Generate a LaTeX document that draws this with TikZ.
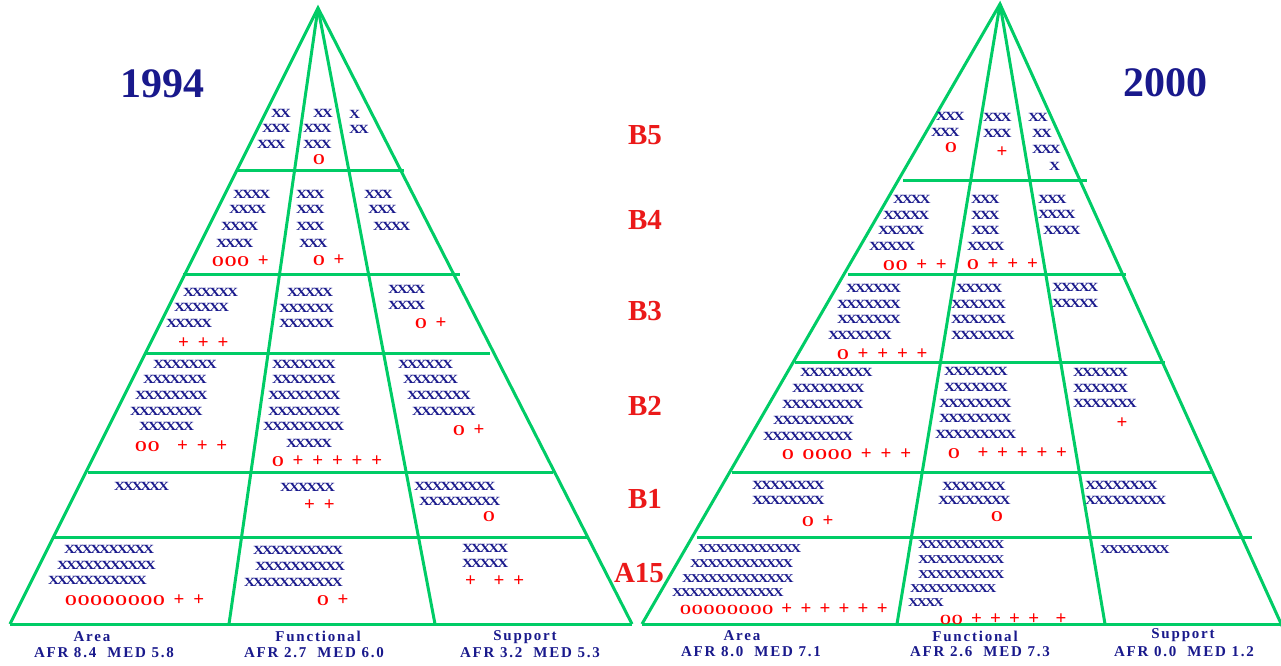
\documentclass[tikz,border=0pt]{standalone}
\usepackage{fontspec}
\setmainfont{Liberation Serif}
\newfontfamily\xfam{Liberation Serif}[FakeStretch=1.22,LetterSpace=-18]
\newfontfamily\rfam{Liberation Serif}[LetterSpace=6,WordSpace=1.9]
\newfontfamily\lfam{Liberation Serif}[LetterSpace=12]
\newcommand\pl{{\fontsize{19}{19}\selectfont+}}
\definecolor{dblue}{RGB}{25,25,140}
\definecolor{rred}{RGB}{255,0,0}
\definecolor{bred}{RGB}{235,25,25}
\definecolor{grn}{RGB}{0,204,102}
\tikzset{
  ln/.style={draw=grn, line width=3pt},
  xx/.style={anchor=west, inner sep=0pt, text=dblue, font={\xfam\bfseries\fontsize{12.5}{12.5}\selectfont}},
  xs/.style={xx, font={\xfam\bfseries\fontsize{12}{12}\selectfont}},
  rr/.style={anchor=west, inner sep=0pt, text=rred, font={\rfam\bfseries\fontsize{15}{15}\selectfont}},
  rs/.style={rr, font={\rfam\bfseries\fontsize{14}{14}\selectfont}},
  rc/.style={rr, anchor=center},
  blab/.style={text=bred, inner sep=0pt, font={\bfseries\fontsize{29}{29}\selectfont}},
  lab/.style={text=dblue, inner sep=0pt, font={\lfam\bfseries\fontsize{15}{15}\selectfont}},
  ttl/.style={text=dblue, inner sep=0pt, font={\bfseries\fontsize{42}{42}\selectfont}}
}
\begin{document}
\begin{tikzpicture}[x=1pt,y=-1pt]
\useasboundingbox (0,0) rectangle (1281,665);
\fill[white] (0,0) rectangle (1281,665);
% ---------- left pyramid frame
\coordinate (LA) at (318,8);
\coordinate (LBL) at (10,624);
\coordinate (LBR) at (632,624);
\coordinate (LD1) at (229,624);
\coordinate (LD2) at (435,624);
\draw[ln] (LBL) -- (LA) -- (LBR);
\draw[ln] (LA) -- (LD1);
\draw[ln] (LA) -- (LD2);
\draw[ln] (LBL) -- (LBR);
\coordinate (Lh1a) at (238,170); \coordinate (Lh1b) at (404,170);
\coordinate (Lh2a) at (183,274); \coordinate (Lh2b) at (460,274);
\coordinate (Lh3a) at (146,353); \coordinate (Lh3b) at (490,353);
\coordinate (Lh4a) at (88,472);  \coordinate (Lh4b) at (553,472);
\coordinate (Lh5a) at (54,537);  \coordinate (Lh5b) at (588,537);
\draw[ln] (Lh1a) -- (Lh1b);
\draw[ln] (Lh2a) -- (Lh2b);
\draw[ln] (Lh3a) -- (Lh3b);
\draw[ln] (Lh4a) -- (Lh4b);
\draw[ln] (Lh5a) -- (Lh5b);
% ---------- right pyramid frame
\coordinate (RA) at (1000,4);
\coordinate (RBL) at (642,624);
\coordinate (RBR) at (1283,628);
\coordinate (RBE) at (1283,624);
\coordinate (RD1) at (897,624);
\coordinate (RD2) at (1105,624);
\draw[ln] (RBL) -- (RA) -- (RBR);
\draw[ln] (RA) -- (RD1);
\draw[ln] (RA) -- (RD2);
\draw[ln] (RBL) -- (RBE);
\coordinate (Rh1a) at (903,180); \coordinate (Rh1b) at (1087,180);
\coordinate (Rh2a) at (848,274); \coordinate (Rh2b) at (1126,274);
\coordinate (Rh3a) at (795,362); \coordinate (Rh3b) at (1165,362);
\coordinate (Rh4a) at (732,472); \coordinate (Rh4b) at (1213,472);
\coordinate (Rh5a) at (697,537); \coordinate (Rh5b) at (1252,537);
\draw[ln] (Rh1a) -- (Rh1b);
\draw[ln] (Rh2a) -- (Rh2b);
\draw[ln] (Rh3a) -- (Rh3b);
\draw[ln] (Rh4a) -- (Rh4b);
\draw[ln] (Rh5a) -- (Rh5b);
% ---------- titles and level labels
\node[ttl] (t1) at (162,84) {1994};
\node[ttl] (t2) at (1165,83) {2000};
\node[blab] (b5) at (645,135) {B5};
\node[blab] (b4) at (645,220) {B4};
\node[blab] (b3) at (645,311) {B3};
\node[blab] (b2) at (645,406) {B2};
\node[blab] (b1) at (645,499) {B1};
\node[blab] (a15) at (639,573) {A15};
% ---------- bottom labels
\node[lab] (la1) at (92,637) {Area};
\node[lab] (la2) at (104,653) {AFR 8.4\ \ MED 5.8};
\node[lab] (lf1) at (318,636) {Functional};
\node[lab] (lf2) at (314,653) {AFR 2.7\ \ MED 6.0};
\node[lab] (ls1) at (525,637) {Support};
\node[lab] (ls2) at (530,653) {AFR 3.2\ \ MED 5.3};
\node[lab] (ra1) at (742,636) {Area};
\node[lab] (ra2) at (751,652) {AFR 8.0\ \ MED 7.1};
\node[lab] (rf1) at (975,636) {Functional};
\node[lab] (rf2) at (980,652) {AFR 2.6\ \ MED 7.3};
\node[lab] (rs1) at (1183,635) {Support};
\node[lab] (rs2) at (1184,652) {AFR 0.0\ \ MED 1.2};
% ================= LEFT 1994 contents
% B5
\node[xx] (l5a1) at (271,113) {XX};
\node[xx] (l5a2) at (262,128) {XXX};
\node[xx] (l5a3) at (257,144) {XXX};
\node[xx] (l5b1) at (313,113) {XX};
\node[xx] (l5b2) at (303,128) {XXX};
\node[xx] (l5b3) at (303,144) {XXX};
\node[rc] (l5b4) at (319,160) {O};
\node[xx] (l5c1) at (349,114) {X};
\node[xx] (l5c2) at (349,129) {XX};
% B4
\node[xx] (l4a1) at (233,194) {XXXX};
\node[xx] (l4a2) at (229,209) {XXXX};
\node[xx] (l4a3) at (221,226) {XXXX};
\node[xx] (l4a4) at (216,243) {XXXX};
\node[rr] (l4a5) at (212,261) {OOO \pl};
\node[xx] (l4b1) at (296,194) {XXX};
\node[xx] (l4b2) at (296,209) {XXX};
\node[xx] (l4b3) at (296,226) {XXX};
\node[xx] (l4b4) at (299,243) {XXX};
\node[rr] (l4b5) at (313,260) {O \pl};
\node[xx] (l4c1) at (364,194) {XXX};
\node[xx] (l4c2) at (368,209) {XXX};
\node[xx] (l4c3) at (373,226) {XXXX};
% B3
\node[xx] (l3a1) at (183,292) {XXXXXX};
\node[xx] (l3a2) at (174,307) {XXXXXX};
\node[xx] (l3a3) at (166,323) {XXXXX};
\node[rr] (l3a4) at (178,343) {\pl\ \pl\ \pl};
\node[xx] (l3b1) at (287,292) {XXXXX};
\node[xx] (l3b2) at (279,308) {XXXXXX};
\node[xx] (l3b3) at (279,323) {XXXXXX};
\node[xx] (l3c1) at (388,289) {XXXX};
\node[xx] (l3c2) at (388,305) {XXXX};
\node[rr] (l3c3) at (415,323) {O \pl};
% B2
\node[xx] (l2a1) at (153,364) {XXXXXXX};
\node[xx] (l2a2) at (143,379) {XXXXXXX};
\node[xx] (l2a3) at (135,395) {XXXXXXXX};
\node[xx] (l2a4) at (130,411) {XXXXXXXX};
\node[xx] (l2a5) at (139,426) {XXXXXX};
\node[rr] (l2a6) at (135,446) {OO\ \ \pl\ \pl\ \pl};
\node[xx] (l2b1) at (272,364) {XXXXXXX};
\node[xx] (l2b2) at (272,379) {XXXXXXX};
\node[xx] (l2b3) at (268,395) {XXXXXXXX};
\node[xx] (l2b4) at (268,411) {XXXXXXXX};
\node[xx] (l2b5) at (263,426) {XXXXXXXXX};
\node[xx] (l2b6) at (286,443) {XXXXX};
\node[rr] (l2b7) at (272,461) {O \pl\ \pl\ \pl\ \pl\ \pl};
\node[xx] (l2c1) at (398,364) {XXXXXX};
\node[xx] (l2c2) at (403,379) {XXXXXX};
\node[xx] (l2c3) at (407,395) {XXXXXXX};
\node[xx] (l2c4) at (412,411) {XXXXXXX};
\node[rr] (l2c5) at (453,430) {O \pl};
% B1
\node[xx] (l1a1) at (114,486) {XXXXXX};
\node[xx] (l1b1) at (280,487) {XXXXXX};
\node[rr] (l1b2) at (304,505) {\pl\ \pl};
\node[xx] (l1c1) at (414,486) {XXXXXXXXX};
\node[xx] (l1c2) at (419,501) {XXXXXXXXX};
\node[rc] (l1c3) at (489,517) {O};
% A15
\node[xx] (l0a1) at (64,549) {XXXXXXXXXX};
\node[xx] (l0a2) at (57,565) {XXXXXXXXXXX};
\node[xx] (l0a3) at (48,580) {XXXXXXXXXXX};
\node[rr] (l0a4) at (65,600) {OOOOOOOO \pl\ \pl};
\node[xx] (l0b1) at (253,550) {XXXXXXXXXX};
\node[xx] (l0b2) at (255,566) {XXXXXXXXXX};
\node[xx] (l0b3) at (244,582) {XXXXXXXXXXX};
\node[rr] (l0b4) at (317,600) {O \pl};
\node[xx] (l0c1) at (462,548) {XXXXX};
\node[xx] (l0c2) at (462,563) {XXXXX};
\node[rr] (l0c3) at (465,581) {\pl\ \ \pl\ \pl};
% ================= RIGHT 2000 contents
% B5
\node[xx] (r5a1) at (936,116) {XXX};
\node[xx] (r5a2) at (931,132) {XXX};
\node[rc] (r5a3) at (951,148) {O};
\node[xx] (r5b1) at (983,117) {XXX};
\node[xx] (r5b2) at (983,133) {XXX};
\node[rc] (r5b3) at (1002,152) {\pl};
\node[xx] (r5c1) at (1028,117) {XX};
\node[xx] (r5c2) at (1032,133) {XX};
\node[xx] (r5c3) at (1032,149) {XXX};
\node[xx] (r5c4) at (1049,166) {X};
% B4
\node[xx] (r4a1) at (893,199) {XXXX};
\node[xx] (r4a2) at (883,215) {XXXXX};
\node[xx] (r4a3) at (878,230) {XXXXX};
\node[xx] (r4a4) at (869,246) {XXXXX};
\node[rr] (r4a5) at (883,265) {OO \pl\ \pl};
\node[xx] (r4b1) at (971,199) {XXX};
\node[xx] (r4b2) at (971,215) {XXX};
\node[xx] (r4b3) at (971,230) {XXX};
\node[xx] (r4b4) at (967,246) {XXXX};
\node[rr] (r4b5) at (967,264) {O \pl\ \pl\ \pl};
\node[xx] (r4c1) at (1038,199) {XXX};
\node[xx] (r4c2) at (1038,214) {XXXX};
\node[xx] (r4c3) at (1043,230) {XXXX};
% B3
\node[xx] (r3a1) at (846,288) {XXXXXX};
\node[xx] (r3a2) at (837,304) {XXXXXXX};
\node[xx] (r3a3) at (837,319) {XXXXXXX};
\node[xx] (r3a4) at (828,335) {XXXXXXX};
\node[rr] (r3a5) at (837,354) {O \pl\ \pl\ \pl\ \pl};
\node[xx] (r3b1) at (956,288) {XXXXX};
\node[xx] (r3b2) at (951,304) {XXXXXX};
\node[xx] (r3b3) at (951,319) {XXXXXX};
\node[xx] (r3b4) at (951,335) {XXXXXXX};
\node[xx] (r3c1) at (1052,287) {XXXXX};
\node[xx] (r3c2) at (1052,303) {XXXXX};
% B2
\node[xx] (r2a1) at (800,372) {XXXXXXXX};
\node[xx] (r2a2) at (792,388) {XXXXXXXX};
\node[xx] (r2a3) at (782,404) {XXXXXXXXX};
\node[xx] (r2a4) at (773,420) {XXXXXXXXX};
\node[xx] (r2a5) at (763,436) {XXXXXXXXXX};
\node[rr] (r2a6) at (782,454) {O OOOO \pl\ \pl\ \pl};
\node[xx] (r2b1) at (944,371) {XXXXXXX};
\node[xx] (r2b2) at (944,387) {XXXXXXX};
\node[xx] (r2b3) at (939,403) {XXXXXXXX};
\node[xx] (r2b4) at (939,418) {XXXXXXXX};
\node[xx] (r2b5) at (935,434) {XXXXXXXXX};
\node[rr] (r2b6) at (948,453) {O\ \ \pl\ \pl\ \pl\ \pl\ \pl};
\node[xx] (r2c1) at (1073,372) {XXXXXX};
\node[xx] (r2c2) at (1073,388) {XXXXXX};
\node[xx] (r2c3) at (1073,403) {XXXXXXX};
\node[rc] (r2c4) at (1122,423) {\pl};
% B1
\node[xx] (r1a1) at (752,485) {XXXXXXXX};
\node[xx] (r1a2) at (752,500) {XXXXXXXX};
\node[rr] (r1a3) at (802,521) {O \pl};
\node[xx] (r1b1) at (942,486) {XXXXXXX};
\node[xx] (r1b2) at (938,500) {XXXXXXXX};
\node[rc] (r1b3) at (997,517) {O};
\node[xx] (r1c1) at (1085,485) {XXXXXXXX};
\node[xx] (r1c2) at (1085,500) {XXXXXXXXX};
% A15
\node[xs] (r0a1) at (698,549) {XXXXXXXXXXXX};
\node[xs] (r0a2) at (690,564) {XXXXXXXXXXXX};
\node[xs] (r0a3) at (682,579) {XXXXXXXXXXXXX};
\node[xs] (r0a4) at (672,593) {XXXXXXXXXXXXX};
\node[rs] (r0a5) at (680,609) {OOOOOOOO \pl\ \pl\ \pl\ \pl\ \pl\ \pl};
\node[xs] (r0b1) at (918,545) {XXXXXXXXXX};
\node[xs] (r0b2) at (918,560) {XXXXXXXXXX};
\node[xs] (r0b3) at (918,575) {XXXXXXXXXX};
\node[xs] (r0b4) at (910,589) {XXXXXXXXXX};
\node[xs] (r0b5) at (908,603) {XXXX};
\node[rs] (r0b6) at (940,619) {OO \pl\ \pl\ \pl\ \pl\ \ \pl};
\node[xs] (r0c1) at (1100,550) {XXXXXXXX};
\end{tikzpicture}
\end{document}
